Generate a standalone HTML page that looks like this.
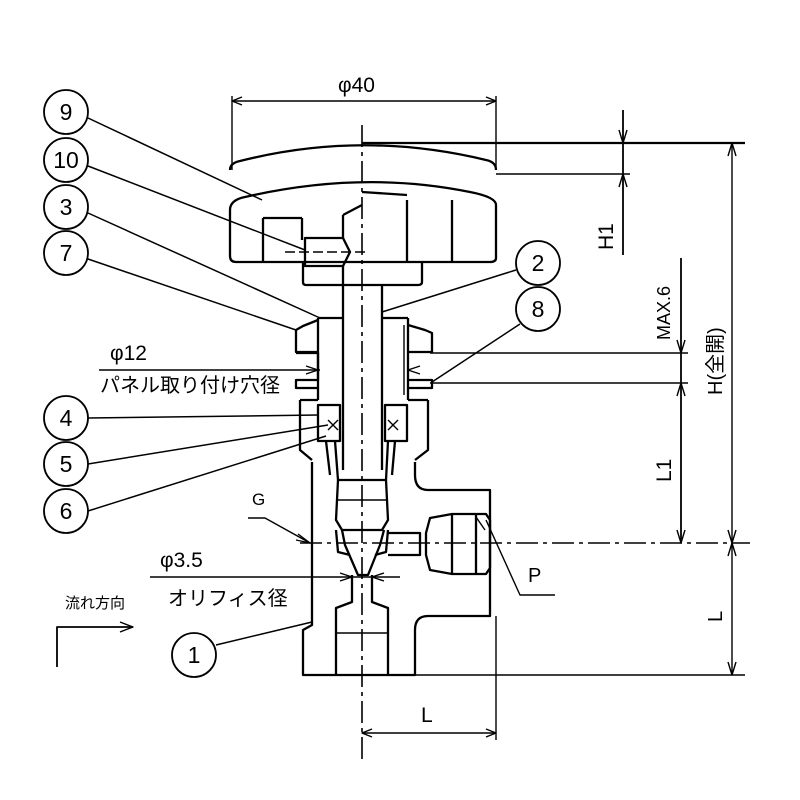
<!DOCTYPE html>
<html><head><meta charset="utf-8"><style>
html,body{margin:0;padding:0;background:#fff}
svg{display:block}
text{font-family:"Liberation Sans","Noto Sans CJK JP",sans-serif;fill:#000}
</style></head><body>
<svg width="800" height="800" viewBox="0 0 800 800" xmlns="http://www.w3.org/2000/svg">
<g fill="none" stroke="#000" stroke-width="2.3" stroke-linejoin="round">
<line x1="362" y1="125" x2="362" y2="760" stroke-width="1.6" stroke-dasharray="22,5,4,5"/>
<line x1="300" y1="543" x2="750" y2="543" stroke-width="1.6" stroke-dasharray="22,5,4,5"/>
<line x1="232" y1="96" x2="232" y2="170" stroke-width="1.4"/>
<line x1="496" y1="96" x2="496" y2="167" stroke-width="1.4"/>
<line x1="232" y1="101" x2="496" y2="101" stroke-width="1.4"/>
<path d="M242 97 L232 101 L242 105 M486 97 L496 101 L486 105" stroke-width="1.4"/>
<path d="M230 170 Q230 163 240 161 Q362 130 486 160 Q496 162 496 170"/>
<line x1="362" y1="143" x2="745" y2="143"/>
<line x1="496" y1="174" x2="630" y2="174" stroke-width="1.4"/>
<path d="M230 210 Q230 200 245 197 Q362 170 470 192 Q496 197 496 205 L496 258 Q496 262 490 262 L236 262 Q230 262 230 256 Z"/>
<line x1="263" y1="218" x2="263" y2="262"/><line x1="263" y1="218" x2="302" y2="218"/><line x1="302" y1="218" x2="302" y2="240"/>
<line x1="407" y1="200" x2="407" y2="262"/><line x1="452" y1="200" x2="452" y2="262"/>
<line x1="362" y1="192" x2="407" y2="195"/>
<path d="M303 262 L303 282 Q303 285 306 285 L418 285 Q422 285 422 282 L422 262"/>
<path d="M305 238 L343 238 L350 252 L343 266 L305 266 Z"/>
<line x1="285" y1="252" x2="368" y2="252" stroke-dasharray="10,4" stroke-width="1.4"/>
<path d="M343 215 L362 205 M343 215 L343 238"/>
<line x1="343" y1="266" x2="343" y2="470"/>
<line x1="382" y1="285" x2="382" y2="470"/>
<path d="M318 318 L343 318 M382 318 L408 318"/>
<path d="M318 320 L303 326 L296 330 L296 352 L318 352 M296 353 L318 353 L318 380 L296 380 L296 388 L318 388"/>
<path d="M408 325 L425 330 L432 333 L432 352 L408 352 M408 380 L432 380 L432 388 L408 388"/>
<line x1="318" y1="318" x2="318" y2="400"/><line x1="408" y1="318" x2="408" y2="400"/>
<line x1="404" y1="325" x2="404" y2="395" stroke-width="1.4"/>
<path d="M300 400 L300 450 L312 460 M428 400 L428 450 L415 460"/>
<path d="M318 400 L300 400 M408 400 L428 400"/>
<rect x="318" y="405" width="22" height="36"/><rect x="385" y="405" width="22" height="36"/>
<path d="M328 420 l10 10 m0 -10 l-10 10 M388 420 l10 10 m0 -10 l-10 10" stroke-width="1.4"/>
<path d="M326 441 L330 475 M395 441 L392 475 M335 441 L338 480 M388 441 L386 480"/>
<path d="M338 480 L386 480 L388 520 L382 530 L342 530 L336 520 Z"/>
<line x1="337" y1="500" x2="387" y2="500" stroke-width="1.4"/>
<path d="M342 530 L345 545 L358 575 L368 575 L380 545 L384 530"/>
<path d="M336 530 L338 552 L350 555 M388 530 L386 552 L375 555"/>
<path d="M312 462 L312 625 L303 630 L303 675 L415 675 L415 630 Q415 616 428 616 L490 616 L490 490 L428 490 Q415 490 415 475 L415 462"/>
<path d="M352 575 L352 602 L336 608 L336 675 M372 575 L372 602 L388 608 L388 675"/>
<line x1="336" y1="633" x2="388" y2="633" stroke-width="1.4"/>
<path d="M388 533 L420 533 L420 555 L388 555"/>
<path d="M430 518 L452 514 L486 514 L490 520 L490 568 L486 574 L452 574 L430 570 L426 555 L426 533 Z"/>
<line x1="452" y1="514" x2="452" y2="574"/>
<line x1="476" y1="514" x2="476" y2="574"/>
<line x1="476" y1="517" x2="485" y2="530" stroke-width="1.4"/>
<line x1="623" y1="110" x2="623" y2="255" stroke-width="1.8"/>
<path d="M619 130 L623 143 L627 130 M619 187 L623 174 L627 187" stroke-width="1.4"/>
<line x1="681" y1="258" x2="681" y2="543" stroke-width="1.8"/>
<path d="M677 340 L681 353 L685 340 M677 396 L681 383 L685 396 M677 530 L681 543 L685 530" stroke-width="1.4"/>
<line x1="430" y1="353" x2="688" y2="353" stroke-width="1.4"/>
<line x1="430" y1="383" x2="688" y2="383" stroke-width="1.4"/>
<line x1="732" y1="143" x2="732" y2="675" stroke-width="1.4"/>
<path d="M728 156 L732 143 L736 156 M728 530 L732 543 L736 530 M728 556 L732 543 L736 556 M728 662 L732 675 L736 662" stroke-width="1.4"/>
<line x1="415" y1="675" x2="745" y2="675" stroke-width="1.4"/>
<line x1="496" y1="616" x2="496" y2="740" stroke-width="1.4"/>
<line x1="362" y1="733" x2="496" y2="733" stroke-width="1.4"/>
<path d="M372 729 L362 733 L372 737 M486 729 L496 733 L486 737" stroke-width="1.4"/>
<line x1="99" y1="370" x2="320" y2="370" stroke-width="1.4"/>
<path d="M306 366 L318 370 L306 374 M420 366 L408 370 L420 374" stroke-width="1.4"/>
<line x1="150" y1="577" x2="400" y2="577" stroke-width="1.4"/>
<path d="M340 573 L352 577 L340 581 M384 573 L372 577 L384 581" stroke-width="1.4"/>
<path d="M248 518 L265 518 L310 543" stroke-width="1.4"/>
<path d="M298 534 L310 543 L296 540" stroke-width="1.4"/>
<path d="M486 520 L520 595 L555 595" stroke-width="1.4"/>
<path d="M57 667 L57 627 L133 627" stroke-width="1.8"/>
<path d="M120 622 L133 627 L120 632" stroke-width="1.4"/>
<g stroke-width="1.5">
<line x1="88" y1="118" x2="262" y2="200"/>
<line x1="88" y1="166" x2="305" y2="250"/>
<line x1="88" y1="213" x2="320" y2="318"/>
<line x1="88" y1="259" x2="296" y2="330"/>
<line x1="88" y1="418" x2="318" y2="415"/>
<line x1="88" y1="464" x2="328" y2="425"/>
<line x1="88" y1="511" x2="326" y2="436"/>
<line x1="216" y1="645" x2="312" y2="622"/>
<line x1="516" y1="270" x2="382" y2="312"/>
<line x1="520" y1="324" x2="432" y2="382"/>
</g>
<g stroke-width="1.8">
<circle cx="66" cy="112" r="22"/><circle cx="66" cy="160" r="22"/><circle cx="66" cy="207" r="22"/><circle cx="66" cy="253" r="22"/>
<circle cx="66" cy="418" r="22"/><circle cx="66" cy="464" r="22"/><circle cx="66" cy="511" r="22"/>
<circle cx="194" cy="655" r="22"/><circle cx="538" cy="263" r="22"/><circle cx="538" cy="309" r="22"/>
</g>
</g>
<g font-size="23" text-anchor="middle">
<text x="66" y="120">9</text><text x="66" y="168">10</text><text x="66" y="215">3</text><text x="66" y="261">7</text>
<text x="66" y="426">4</text><text x="66" y="472">5</text><text x="66" y="519">6</text>
<text x="194" y="663">1</text><text x="538" y="271">2</text><text x="538" y="317">8</text>
</g>
<text x="338" y="92" font-size="21">φ40</text>
<text x="110" y="360" font-size="21">φ12</text>
<text x="100" y="392" font-size="20">パネル取り付け穴径</text>
<text x="160" y="567" font-size="21">φ3.5</text>
<text x="168" y="605" font-size="20">オリフィス径</text>
<text x="65" y="608" font-size="15">流れ方向</text>
<text x="252" y="505" font-size="17">G</text>
<text x="528" y="582" font-size="20">P</text>
<text x="421" y="722" font-size="21">L</text>
<text transform="translate(613,250) rotate(-90)" font-size="21">H1</text>
<text transform="translate(670,340) rotate(-90)" font-size="18">MAX.6</text>
<text transform="translate(722,395) rotate(-90)" font-size="20">H(全開)</text>
<text transform="translate(671,482) rotate(-90)" font-size="21">L1</text>
<text transform="translate(722,622) rotate(-90)" font-size="20">L</text>
</svg>
</body></html>
